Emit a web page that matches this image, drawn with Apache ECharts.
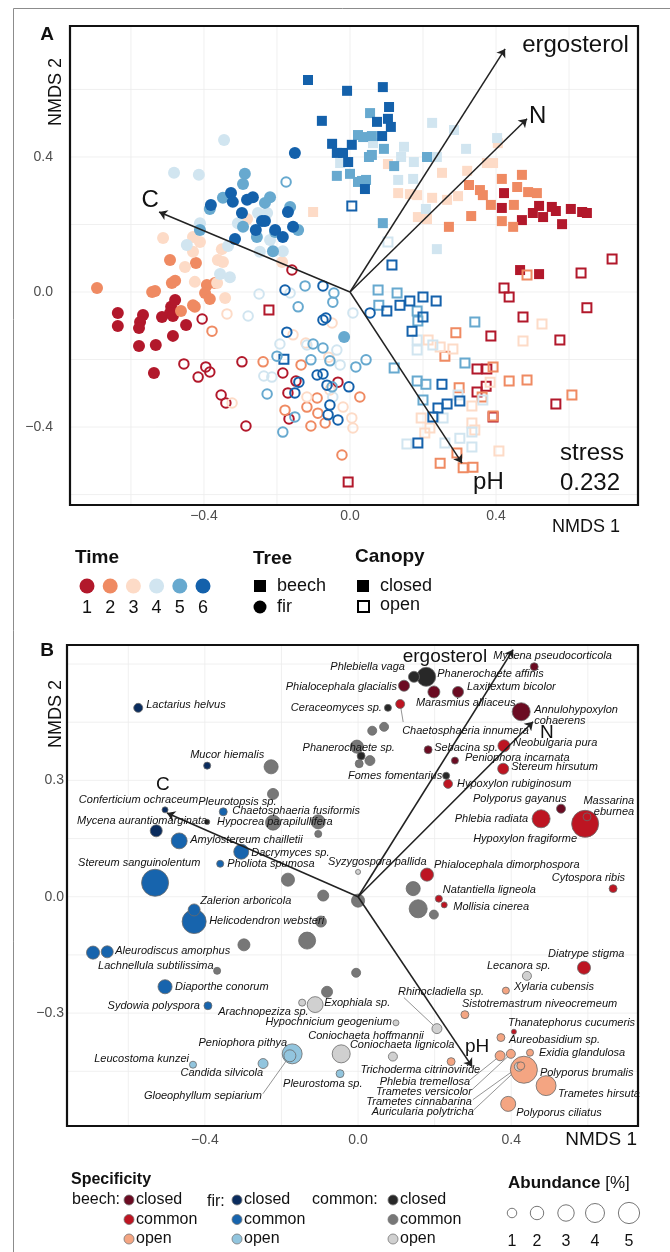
<!DOCTYPE html>
<html><head><meta charset="utf-8">
<script src="https://cdn.jsdelivr.net/npm/echarts@6/dist/echarts.min.js"></script>
<style>html,body{margin:0;padding:0;background:#fff}#c{width:670px;height:1252px}</style>
</head><body><div id="c"></div>
<script>
// ================= DATA =================
// Panel A: NMDS site scores [NMDS1, NMDS2]; bc = beech closed, bo = beech open, fc = fir closed, fo = fir open; t = time
const A_bc_t6 = [[-0.115,0.628],[-0.008,0.596],[-0.077,0.507],[-0.049,0.439],[-0.036,0.412],[-0.019,0.412],[0.005,0.436],[-0.005,0.385],[0.090,0.607],[0.107,0.548],[0.074,0.504],[0.104,0.513],[0.112,0.489],[0.088,0.462],[0.041,0.305]];
const A_bc_t5 = [[0.022,0.465],[-0.036,0.344],[0.000,0.350],[0.022,0.326],[0.055,0.530],[0.036,0.459],[0.060,0.462],[0.093,0.424],[0.052,0.400],[0.060,0.406],[0.033,0.329],[0.044,0.332],[0.121,0.373],[0.211,0.400],[0.090,0.204]];
const A_bc_t4 = [[-0.027,0.382],[0.225,0.501],[0.285,0.480],[0.063,0.441],[0.148,0.430],[0.318,0.424],[0.140,0.400],[0.175,0.385],[0.238,0.400],[0.403,0.456],[0.132,0.332],[0.173,0.335],[0.208,0.246],[0.238,0.127]];
const A_bc_t3 = [[-0.101,0.237],[0.405,0.441],[0.104,0.379],[0.252,0.353],[0.321,0.359],[0.375,0.382],[0.392,0.382],[0.132,0.293],[0.164,0.290],[0.184,0.287],[0.225,0.279],[0.266,0.273],[0.296,0.284],[0.186,0.222],[0.211,0.216]];
const A_bc_t2 = [[0.416,0.335],[0.471,0.347],[0.326,0.317],[0.356,0.302],[0.364,0.287],[0.386,0.258],[0.458,0.311],[0.488,0.296],[0.512,0.293],[0.449,0.258],[0.332,0.225],[0.416,0.210],[0.447,0.193],[0.271,0.193]];
const A_bc_t1 = [[0.422,0.293],[0.416,0.249],[0.471,0.213],[0.501,0.234],[0.518,0.255],[0.529,0.222],[0.553,0.252],[0.564,0.240],[0.605,0.246],[0.636,0.237],[0.649,0.234],[0.581,0.201],[0.466,0.065],[0.518,0.053]];
const A_bo_t6 = [[0.005,0.255],[0.115,0.080],[0.137,-0.039],[0.164,-0.027],[0.200,-0.015],[0.236,-0.027],[0.101,-0.056],[0.200,-0.074],[0.170,-0.116],[0.252,-0.273],[0.301,-0.323],[0.266,-0.332],[0.241,-0.344],[0.227,-0.370],[0.186,-0.447],[-0.181,-0.199]];
const A_bo_t5 = [[0.077,0.006],[0.129,-0.003],[0.079,-0.039],[0.184,-0.056],[0.186,-0.086],[0.342,-0.089],[0.315,-0.210],[0.121,-0.225],[0.184,-0.264],[0.208,-0.273],[0.200,-0.320]];
const A_bo_t4 = [[0.104,0.148],[0.184,-0.142],[0.184,-0.172],[0.227,-0.157],[0.296,-0.305],[0.364,-0.320],[0.255,-0.373],[0.301,-0.433],[0.334,-0.459],[0.156,-0.450],[0.260,-0.447],[0.334,-0.415]];
const A_bo_t3 = [[0.214,-0.142],[0.247,-0.163],[0.282,-0.169],[0.474,-0.145],[0.526,-0.095],[0.195,-0.373],[0.205,-0.418],[0.219,-0.403],[0.334,-0.388],[0.342,-0.409],[0.334,-0.338],[0.408,-0.471],[0.384,-0.267]];
const A_bo_t2 = [[0.485,0.050],[0.290,-0.121],[0.260,-0.190],[0.392,-0.222],[0.436,-0.264],[0.485,-0.261],[0.299,-0.284],[0.362,-0.311],[0.392,-0.367],[0.608,-0.305],[0.293,-0.477],[0.247,-0.507],[0.310,-0.521],[0.337,-0.519]];
const A_bo_t1 = [[0.718,0.098],[0.633,0.056],[0.422,0.012],[0.436,-0.015],[0.474,-0.074],[0.649,-0.047],[0.386,-0.130],[0.575,-0.142],[0.348,-0.228],[0.375,-0.228],[0.373,-0.279],[0.348,-0.296],[0.564,-0.332],[0.392,-0.370],[-0.005,-0.563],[-0.222,-0.053]];
const A_fc_t6 = [[-0.151,0.412],[-0.326,0.293],[-0.321,0.267],[-0.381,0.258],[-0.282,0.273],[-0.266,0.281],[-0.296,0.234],[-0.241,0.210],[-0.233,0.210],[-0.258,0.184],[-0.205,0.184],[-0.156,0.193],[-0.184,0.163],[-0.315,0.157],[-0.170,0.237]];
const A_fc_t5 = [[-0.288,0.350],[-0.293,0.320],[-0.348,0.279],[-0.219,0.281],[-0.233,0.264],[-0.164,0.252],[-0.384,0.246],[-0.293,0.193],[-0.142,0.184],[-0.205,0.178],[-0.211,0.121],[-0.411,0.184],[-0.255,0.163],[-0.016,-0.133]];
const A_fc_t4 = [[-0.345,0.450],[-0.482,0.353],[-0.414,0.347],[-0.411,0.204],[-0.252,0.234],[-0.227,0.234],[-0.307,0.204],[-0.219,0.154],[-0.184,0.121],[-0.247,0.119],[-0.447,0.139],[-0.334,0.136],[-0.356,0.053],[-0.329,0.044]];
const A_fc_t3 = [[-0.512,0.160],[-0.430,0.163],[-0.411,0.148],[-0.282,0.216],[-0.430,0.119],[-0.351,0.127],[-0.362,0.095],[-0.452,0.074],[-0.186,0.089],[-0.425,0.030],[-0.342,-0.018],[-0.364,0.027],[-0.348,0.089]];
const A_fc_t2 = [[-0.493,0.095],[-0.422,0.086],[-0.693,0.012],[-0.542,0.000],[-0.534,0.003],[-0.488,0.027],[-0.479,0.033],[-0.392,0.021],[-0.397,-0.003],[-0.384,-0.021],[-0.430,-0.039],[-0.425,-0.044],[-0.463,-0.056],[-0.370,0.027]];
const A_fc_t1 = [[-0.636,-0.062],[-0.636,-0.101],[-0.567,-0.068],[-0.575,-0.089],[-0.578,-0.107],[-0.515,-0.074],[-0.490,-0.044],[-0.479,-0.024],[-0.493,-0.062],[-0.485,-0.071],[-0.449,-0.098],[-0.485,-0.130],[-0.578,-0.160],[-0.532,-0.157],[-0.537,-0.240]];
const A_fo_t6 = [[-0.178,0.006],[-0.074,0.018],[-0.074,-0.083],[-0.066,-0.077],[-0.173,-0.119],[-0.090,-0.246],[-0.074,-0.243],[-0.140,-0.267],[-0.151,-0.299],[-0.063,-0.276],[-0.003,-0.281],[-0.055,-0.335],[-0.060,-0.364],[-0.033,-0.379],[0.055,-0.062]];
const A_fo_t5 = [[-0.175,0.326],[-0.123,0.018],[-0.142,-0.044],[-0.044,-0.003],[-0.047,-0.030],[-0.101,-0.154],[-0.074,-0.166],[-0.200,-0.190],[-0.107,-0.201],[-0.055,-0.204],[-0.227,-0.302],[-0.184,-0.415],[-0.151,-0.370],[0.016,-0.222],[-0.049,-0.281],[0.044,-0.201]];
const A_fo_t4 = [[-0.249,-0.006],[-0.279,-0.071],[-0.192,-0.154],[-0.236,-0.249],[-0.214,-0.252],[-0.118,-0.157],[-0.036,-0.172],[0.008,-0.062],[-0.164,-0.003],[-0.027,-0.216],[-0.047,-0.311]];
const A_fo_t3 = [[-0.337,-0.065],[-0.323,-0.329],[-0.156,-0.127],[-0.049,-0.092],[-0.121,-0.151],[-0.058,-0.193],[-0.019,-0.341],[0.008,-0.403],[0.005,-0.373],[-0.118,-0.311],[-0.055,-0.290]];
const A_fo_t2 = [[-0.378,-0.116],[-0.238,-0.207],[-0.134,-0.216],[-0.178,-0.350],[-0.118,-0.341],[-0.107,-0.397],[-0.068,-0.388],[-0.088,-0.359],[-0.022,-0.483],[-0.090,-0.314],[0.027,-0.311]];
const A_fo_t1 = [[-0.159,0.065],[-0.405,-0.080],[-0.455,-0.213],[-0.395,-0.222],[-0.384,-0.237],[-0.416,-0.252],[-0.296,-0.207],[-0.353,-0.305],[-0.340,-0.329],[-0.285,-0.397],[-0.184,-0.240],[-0.148,-0.264],[-0.170,-0.299],[-0.167,-0.376],[-0.033,-0.267]];

// Panel A environmental vectors [name, NMDS1, NMDS2]
const A_vectors = [['ergosterol',0.425,0.720],['N',0.485,0.513],['C',-0.523,0.237],['pH',0.307,-0.507]];
const A_stress = '0.232';
const timeLabels = ['1','2','3','4','5','6'];

// Panel B: species scores [name, NMDS1, NMDS2, abundance %]
const B_beech_closed = [['Mycena pseudocorticola',0.460,0.593,0.7],['Phialocephala glacialis',0.120,0.544,1.35],['Marasmius alliaceus',0.198,0.528,1.6],['Laxitextum bicolor',0.261,0.528,1.35],['Annulohypoxylon cohaerens',0.426,0.477,3.6],['Sebacina sp.',0.183,0.379,0.7],['Peniophora incarnata',0.253,0.351,0.55],['Polyporus gayanus',0.530,0.227,0.9]];
const B_beech_common = [['Chaetosphaeria innumera',0.110,0.497,0.9],['Neobulgaria pura',0.381,0.389,1.6],['Stereum hirsutum',0.379,0.330,1.35],['Hypoxylon rubiginosum',0.235,0.291,0.9],['Phlebia radiata',0.478,0.201,3.6],['Massarina eburnea',0.593,0.188,8.1],['Hypoxylon fragiforme',0.598,0.206,0.7],['Phialocephala dimorphospora',0.180,0.057,1.9],['Natantiella ligneola',0.211,-0.005,0.55],['Mollisia cinerea',0.225,-0.021,0.4],['Cytospora ribis',0.666,0.021,0.7],['Diatrype stigma',0.590,-0.183,1.9],['Thanatephorus cucumeris',0.407,-0.348,0.28]];
const B_beech_open = [['Xylaria cubensis',0.386,-0.242,0.55],['Sistotremastrum niveocremeum',0.279,-0.304,0.7],['Aureobasidium sp.',0.373,-0.363,0.7],['Exidia glandulosa',0.449,-0.402,0.55],['Phlebia tremellosa',0.371,-0.410,1.1],['Trametes versicolor',0.399,-0.405,0.9],['Auricularia polytricha',0.425,-0.436,0.7],['Polyporus brumalis',0.433,-0.446,8.1],['Trametes hirsuta',0.491,-0.487,4.4],['Polyporus ciliatus',0.392,-0.534,2.5],['Trichoderma citrinoviride',0.243,-0.425,0.7]];
const B_fir_closed = [['Lactarius helvus',-0.574,0.487,0.9],['Mucor hiemalis',-0.394,0.338,0.55],['Conferticium ochraceum',-0.504,0.224,0.4],['Mycena aurantiomarginata',-0.527,0.170,1.6]];
const B_fir_common = [['Pleurotopsis sp.',-0.352,0.219,0.7],['Amylostereum chailletii',-0.467,0.144,2.8],['Dacrymyces sp.',-0.305,0.116,2.5],['Pholiota spumosa',-0.360,0.085,0.55],['Stereum sanguinolentum',-0.530,0.036,8.1],['Zalerion arboricola',-0.428,-0.034,1.6],['Helicodendron websteri',-0.428,-0.064,6.4],['Aleurodiscus amorphus',-0.655,-0.142,1.6],['Lachnellula subtilissima',-0.692,-0.144,1.9],['Diaporthe conorum',-0.504,-0.232,2.2],['Sydowia polyspora',-0.392,-0.281,0.7]];
const B_fir_open = [['Peniophora pithya',-0.172,-0.405,4.4],['Gloeophyllum sepiarium',-0.178,-0.410,1.6],['Candida silvicola',-0.248,-0.430,1.1],['Leucostoma kunzei',-0.431,-0.433,0.55],['Pleurostoma sp.',-0.047,-0.456,0.7]];
const B_common_closed = [['Phlebiella vaga',0.146,0.567,1.35],['Phanerochaete affinis',0.178,0.567,4.0],['Ceraceomyces sp.',0.078,0.487,0.55],['Fomes fomentarius',0.230,0.312,0.55],['',0.008,0.363,0.7],['',-0.394,0.193,0.3]];
const B_common_common = [['Phanerochaete sp.',-0.003,0.387,1.9],['',0.003,0.343,0.7],['',0.031,0.351,1.1],['',0.037,0.428,0.9],['',0.068,0.438,0.9],['',-0.227,0.335,2.2],['',-0.222,0.265,1.35],['Hypocrea parapilullifera',-0.222,0.191,2.5],['Chaetosphaeria fusiformis',-0.104,0.193,2.2],['',-0.104,0.162,0.55],['',-0.183,0.044,1.9],['',-0.091,0.003,1.35],['',0.000,-0.010,1.9],['',-0.097,-0.064,1.35],['',-0.133,-0.113,3.2],['',-0.298,-0.124,1.6],['',-0.368,-0.191,0.55],['',-0.005,-0.196,0.9],['',-0.081,-0.245,1.35],['',0.144,0.021,2.2],['',0.157,-0.031,3.6],['',0.198,-0.046,0.9]];
const B_common_open = [['Syzygospora pallida',0.000,0.064,0.28],['Arachnopeziza sp.',-0.146,-0.273,0.55],['Exophiala sp.',-0.112,-0.278,2.8],['Hypochnicium geogenium',0.099,-0.325,0.4],['Rhinocladiella sp.',0.206,-0.340,1.1],['Coniochaeta hoffmannii',-0.044,-0.405,3.6],['Coniochaeta lignicola',0.091,-0.412,0.9],['Lecanora sp.',0.441,-0.204,0.9],['Trametes cinnabarina',0.420,-0.438,0.9]];

const B_vectors = [['ergosterol',0.405,0.637],['N',0.457,0.451],['C',-0.499,0.216],['pH',0.298,-0.438]];
const abundanceLegend = [1,2,3,4,5];

// ================= STYLE / LAYOUT =================
const FONT = '"Liberation Sans", Arial, Helvetica, sans-serif';
const TIME_COLORS = ['#b2182b','#ef8a62','#fddbc7','#d1e5f0','#67a9cf','#1461ab'];
const B_COLORS = {BC:'#6b0b22', BM:'#bd1522', BO:'#f4a582', FC:'#0a2c5e', FM:'#1764ad', FO:'#92c5de', CC:'#282828', CM:'#777777', CO:'#d0d0d0'};
const GA = {l:70, t:26, r:638, b:505};
const GB = {l:67, t:645, r:638, b:1126};
const sizeOf = a => 9.5 * Math.sqrt(a);

// label placement [align, dx, dy, text?] (pixels relative to point centre)
const LABELS = {
 'Lactarius helvus':['left',8,-3],'Mucor hiemalis':['left',-17,-11],'Conferticium ochraceum':['right',33,-10],
 'Pleurotopsis sp.':['left',-25,-10],'Mycena aurantiomarginata':['right',51,-10],'Hypocrea parapilullifera':['left',-56,-1],
 'Chaetosphaeria fusiformis':['left',-86,-11],'Amylostereum chailletii':['left',11,-1],'Dacrymyces sp.':['left',10,1],
 'Pholiota spumosa':['left',7,0],'Stereum sanguinolentum':['left',-77,-20],'Zalerion arboricola':['left',6,-9],
 'Helicodendron websteri':['left',15,-1],'Aleurodiscus amorphus':['left',8,-1],'Lachnellula subtilissima':['left',5,13],
 'Diaporthe conorum':['left',10,0],'Sydowia polyspora':['right',-8,0],'Arachnopeziza sp.':['left',-84,9],
 'Exophiala sp.':['left',9,-2],'Hypochnicium geogenium':['right',-4,-1],'Rhinocladiella sp.':['left',-39,-37],
 'Coniochaeta hoffmannii':['left',-33,-18],'Coniochaeta lignicola':['left',-43,-12],'Peniophora pithya':['right',-5,-11],
 'Gloeophyllum sepiarium':['right',-28,40],'Candida silvicola':['right',0,9],'Leucostoma kunzei':['right',-4,-6],
 'Pleurostoma sp.':['left',-57,10],'Trichoderma citrinoviride':['right',29,8],'Phlebia tremellosa':['right',-30,26],
 'Trametes versicolor':['right',-39,38],'Trametes cinnabarina':['right',-47,35],'Auricularia polytricha':['right',-47,46],
 'Aureobasidium sp.':['left',8,2],'Thanatephorus cucumeris':['left',-6,-9],'Exidia glandulosa':['left',9,0],
 'Polyporus brumalis':['left',16,3],'Trametes hirsuta':['left',12,8],'Polyporus ciliatus':['left',8,9],
 'Xylaria cubensis':['left',8,-4],'Sistotremastrum niveocremeum':['left',-3,-11],'Lecanora sp.':['left',-40,-10],
 'Diatrype stigma':['left',-36,-14],'Cytospora ribis':['right',12,-11],'Mollisia cinerea':['left',9,2],
 'Natantiella ligneola':['left',4,-9],'Phialocephala dimorphospora':['left',7,-10],'Syzygospora pallida':['left',-30,-10],
 'Phlebia radiata':['right',-13,0],'Massarina eburnea':['right',49,-17,'Massarina\neburnea'],'Hypoxylon fragiforme':['right',-10,22],
 'Polyporus gayanus':['left',-88,-10],'Hypoxylon rubiginosum':['left',9,0],'Fomes fomentarius':['right',-4,0],
 'Stereum hirsutum':['left',8,-2],'Peniophora incarnata':['left',10,-3],'Sebacina sp.':['left',6,-2],
 'Neobulgaria pura':['left',9,-3],'Phanerochaete sp.':['right',38,1],'Annulohypoxylon cohaerens':['left',13,4,'Annulohypoxylon\ncohaerens'],
 'Chaetosphaeria innumera':['left',2,27],'Ceraceomyces sp.':['right',-6,0],'Marasmius alliaceus':['left',-18,11],
 'Laxitextum bicolor':['left',9,-5],'Phialocephala glacialis':['right',-7,1],'Phlebiella vaga':['right',-9,-10],
 'Phanerochaete affinis':['left',11,-3],'Mycena pseudocorticola':['left',-41,-11]
};
const LEADERS = {'Chaetosphaeria innumera':[3,18],'Rhinocladiella sp.':[-33,-31],'Gloeophyllum sepiarium':[-27,38],
 'Phlebia tremellosa':[-30,24],'Trametes versicolor':[-39,36],'Trametes cinnabarina':[-46,33],'Auricularia polytricha':[-47,44]};

// ================= BUILD =================
const chart = echarts.init(document.getElementById('c'), null, {renderer:'canvas', width:670, height:1252});

function seriesA(data, t, beech, closed) {
  const c = TIME_COLORS[t];
  return {
    type:'scatter', xAxisIndex:0, yAxisIndex:0, data:data,
    symbol: beech ? 'rect' : 'circle',
    symbolSize: closed ? (beech ? 10 : 12) : (beech ? 9 : 9.5),
    itemStyle: closed ? {color:c, opacity:1} : {color:'rgba(255,255,255,0)', borderColor:c, borderWidth:2, opacity:1},
    silent:true, animation:false, z: closed ? 2 : 3, emphasis:{disabled:true}
  };
}
const A_sets = [
  [A_bc_t1,0,true,true],[A_bc_t2,1,true,true],[A_bc_t3,2,true,true],[A_bc_t4,3,true,true],[A_bc_t5,4,true,true],[A_bc_t6,5,true,true],
  [A_fc_t1,0,false,true],[A_fc_t2,1,false,true],[A_fc_t3,2,false,true],[A_fc_t4,3,false,true],[A_fc_t5,4,false,true],[A_fc_t6,5,false,true],
  [A_bo_t1,0,true,false],[A_bo_t2,1,true,false],[A_bo_t3,2,true,false],[A_bo_t4,3,true,false],[A_bo_t5,4,true,false],[A_bo_t6,5,true,false],
  [A_fo_t1,0,false,false],[A_fo_t2,1,false,false],[A_fo_t3,2,false,false],[A_fo_t4,3,false,false],[A_fo_t5,4,false,false],[A_fo_t6,5,false,false]
];
const series = A_sets.map(s => seriesA(s[0], s[1], s[2], s[3]));

function arrowSeries(vecs, gi, w) {
  return {type:'lines', coordinateSystem:'cartesian2d', xAxisIndex:gi, yAxisIndex:gi,
    data: vecs.map(v => ({coords:[[0,0],[v[1],v[2]]]})),
    symbol:['none','arrow'], symbolSize:8, silent:true, animation:false, z:5,
    lineStyle:{color:'#222', width:w, opacity:1, curveness:0}};
}
series.push(arrowSeries(A_vectors, 0, 1.5));

const B_sets = [[B_beech_closed,'BC'],[B_beech_common,'BM'],[B_beech_open,'BO'],[B_fir_closed,'FC'],[B_fir_common,'FM'],[B_fir_open,'FO'],[B_common_closed,'CC'],[B_common_common,'CM'],[B_common_open,'CO']];
let items = [];
B_sets.forEach(([arr,g]) => arr.forEach(r => items.push({name:r[0], value:[r[1],r[2],r[3]], g:g})));
items.sort((a,b) => b.value[2]-a.value[2]);
const B_data = items.map(it => ({name: it.name, value: it.value, itemStyle:{color:B_COLORS[it.g]}}));
series.push({type:'scatter', xAxisIndex:1, yAxisIndex:1, data:B_data, silent:true, animation:false, z:3,
  symbol:'circle', symbolSize: v => sizeOf(v[2]),
  itemStyle:{borderColor:'#6a6a6a', borderWidth:0.8, opacity:1}, emphasis:{disabled:true}});
series.push(arrowSeries(B_vectors, 1, 1.6));

const hidden = {show:false};
chart.setOption({
  animation:false, backgroundColor:'#fff',
  grid:[
    {left:GA.l, top:GA.t, width:GA.r-GA.l, height:GA.b-GA.t, containLabel:false},
    {left:GB.l, top:GB.t, width:GB.r-GB.l, height:GB.b-GB.t, containLabel:false}
  ],
  xAxis:[
    {type:'value', gridIndex:0, min:-0.767, max:0.789, axisLine:hidden, axisTick:hidden, axisLabel:hidden, splitLine:hidden},
    {type:'value', gridIndex:1, min:-0.760, max:0.731, axisLine:hidden, axisTick:hidden, axisLabel:hidden, splitLine:hidden}
  ],
  yAxis:[
    {type:'value', gridIndex:0, min:-0.631, max:0.788, axisLine:hidden, axisTick:hidden, axisLabel:hidden, splitLine:hidden},
    {type:'value', gridIndex:1, min:-0.591, max:0.649, axisLine:hidden, axisTick:hidden, axisLabel:hidden, splitLine:hidden}
  ],
  series: series
});

// ================= DECORATION (graphic) =================
const P = (gi, x, y) => chart.convertToPixel({gridIndex:gi}, [x, y]);
const G = [];
const txt = (x, y, text, size, opt) => {
  opt = opt || {};
  G.push({type:'text', x:x, y:y, z:20, rotation: opt.rot || 0, silent:true,
    style:{text:text, fill: opt.fill || '#111', fontSize:size, fontFamily:FONT, fontWeight: opt.bold ? 'bold' : 'normal',
      fontStyle: opt.italic ? 'italic' : 'normal', align: opt.align || 'left', verticalAlign: opt.va || 'middle',
      lineHeight: opt.lh, rich: opt.rich}});
};
const line = (x1,y1,x2,y2,stroke,w,z) => G.push({type:'line', z:z, silent:true, shape:{x1:x1,y1:y1,x2:x2,y2:y2}, style:{stroke:stroke, lineWidth:w}});
const fmt = v => (v < 0 ? '\u2212' : '') + Math.abs(v).toFixed(1);

// outer figure frame
G.push({type:'rect', z:0, silent:true, shape:{x:13.5, y:8.5, width:700, height:1300}, style:{fill:'none', stroke:'#8c8c8c', lineWidth:1}});

// gridlines
[-0.6,-0.4,-0.2,0,0.2,0.4,0.6].forEach(v => { const x = P(0,v,0)[0]; line(x,GA.t,x,GA.b,'#ececec',0.8,0); });
[-0.6,-0.4,-0.2,0,0.2,0.4,0.6].forEach(v => { const y = P(0,0,v)[1]; line(GA.l,y,GA.r,y,'#ececec',0.8,0); });
[-0.6,-0.4,-0.2,0,0.2,0.4,0.6].forEach(v => { const x = P(1,v,0)[0]; line(x,GB.t,x,GB.b,'#ececec',0.8,0); });
[-0.45,-0.3,-0.15,0,0.15,0.3,0.45,0.6].forEach(v => { const y = P(1,0,v)[1]; line(GB.l,y,GB.r,y,'#ececec',0.8,0); });

// frames
G.push({type:'rect', z:15, silent:true, shape:{x:GA.l, y:GA.t, width:GA.r-GA.l, height:GA.b-GA.t}, style:{fill:'none', stroke:'#111', lineWidth:2.2}});
G.push({type:'rect', z:15, silent:true, shape:{x:GB.l, y:GB.t, width:GB.r-GB.l, height:GB.b-GB.t}, style:{fill:'none', stroke:'#111', lineWidth:2.2}});

// tick labels
[-0.4,0,0.4].forEach(v => { txt(P(0,v,0)[0], 516, fmt(v), 14, {align:'center', fill:'#4d4d4d'}); });
[-0.4,0,0.4].forEach(v => { txt(53, P(0,0,v)[1], fmt(v), 14, {align:'right', fill:'#4d4d4d'}); });
[-0.4,0,0.4].forEach(v => { txt(P(1,v,0)[0], 1140, fmt(v), 14, {align:'center', fill:'#4d4d4d'}); });
[-0.3,0,0.3].forEach(v => { txt(64, P(1,0,v)[1], fmt(v), 14, {align:'right', fill:'#4d4d4d'}); });

// axis titles & panel letters
txt(47, 35, 'A', 19, {bold:true, align:'center'});
txt(47, 651, 'B', 19, {bold:true, align:'center'});
txt(56, 92, 'NMDS 2', 18, {rot:Math.PI/2, align:'center'});
txt(56, 714, 'NMDS 2', 18, {rot:Math.PI/2, align:'center'});
txt(620, 527, 'NMDS 1', 18, {align:'right'});
txt(637, 1140, 'NMDS 1', 19, {align:'right'});

// arrow labels
const arrowLabelA = {ergosterol:['left',17,-4], N:['left',2,-2], C:['center',-9,-12], pH:['left',11,19]};
A_vectors.forEach(v => { const p = P(0,v[1],v[2]); const o = arrowLabelA[v[0]]; txt(p[0]+o[1], p[1]+o[2], v[0], 24, {align:o[0]}); });
const arrowLabelB = {ergosterol:['right',-26,7], N:['left',7,11], C:['center',-4,-28], pH:['center',5,-20]};
B_vectors.forEach(v => { const p = P(1,v[1],v[2]); const o = arrowLabelB[v[0]]; txt(p[0]+o[1], p[1]+o[2], v[0], 19, {align:o[0]}); });

// stress
txt(560, 453, 'stress', 24);
txt(560, 483, A_stress, 24);

// species labels and leader lines (panel B)
items.forEach(it => {
  const p = P(1, it.value[0], it.value[1]);
  const L = LEADERS[it.name];
  if (L) line(p[0], p[1], p[0]+L[0], p[1]+L[1], '#666', 0.7, 1);
  const lp = LABELS[it.name];
  if (lp) txt(p[0]+lp[1], p[1]+lp[2], lp[3] || it.name, 11, {italic:true, align:lp[0], lh:11});
});

// ---- Legend A ----
txt(75, 558, 'Time', 19, {bold:true});
timeLabels.forEach((t,i) => {
  const cx = 87 + i*23.2;
  G.push({type:'circle', z:20, silent:true, shape:{cx:cx, cy:586, r:7.5}, style:{fill:TIME_COLORS[i]}});
  txt(cx, 608, t, 18, {align:'center'});
});
txt(253, 559, 'Tree', 19, {bold:true});
G.push({type:'rect', z:20, silent:true, shape:{x:254, y:580, width:12, height:12}, style:{fill:'#000'}});
txt(277, 586, 'beech', 18);
G.push({type:'circle', z:20, silent:true, shape:{cx:260, cy:607, r:6.5}, style:{fill:'#000'}});
txt(277, 607, 'fir', 18);
txt(355, 557, 'Canopy', 19, {bold:true});
G.push({type:'rect', z:20, silent:true, shape:{x:357, y:580, width:12, height:12}, style:{fill:'#000'}});
txt(380, 586, 'closed', 18);
G.push({type:'rect', z:20, silent:true, shape:{x:358, y:601, width:11, height:11}, style:{fill:'none', stroke:'#000', lineWidth:2}});
txt(380, 605, 'open', 18);

// ---- Legend B ----
txt(71, 1180, 'Specificity', 16, {bold:true});
const specCols = [['beech:',72,129,['BC','BM','BO']],['fir:',207,237,['FC','FM','FO']],['common:',312,393,['CC','CM','CO']]];
const specRows = ['closed','common','open'];
specCols.forEach(col => {
  txt(col[1], col[0]==='fir:' ? 1202 : 1200, col[0], 16);
  col[3].forEach((g,j) => {
    const cy = 1200 + j*19.5;
    G.push({type:'circle', z:20, silent:true, shape:{cx:col[2], cy:cy, r:5}, style:{fill:B_COLORS[g], stroke:'#777', lineWidth:0.8}});
    txt(col[2]+7, cy, specRows[j], 16);
  });
});
txt(508, 1183, '{a|Abundance} {b|[%]}', 17, {rich:{a:{fontWeight:'bold', fontSize:17, fontFamily:FONT, fill:'#111'}, b:{fontSize:17, fontFamily:FONT, fill:'#111'}}});
const abX = [512, 537, 566, 595, 629];
abundanceLegend.forEach((a,i) => {
  G.push({type:'circle', z:20, silent:true, shape:{cx:abX[i], cy:1213, r:sizeOf(a)/2}, style:{fill:'#fff', stroke:'#666', lineWidth:0.9}});
  txt(abX[i], 1242, String(a), 16, {align:'center'});
});

chart.setOption({graphic:{elements:G}});
</script>
</body></html>
